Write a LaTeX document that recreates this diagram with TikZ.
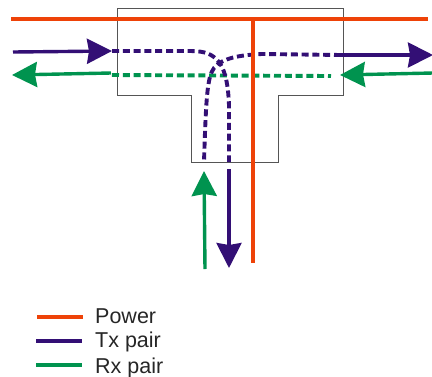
\documentclass[tikz,border=0pt]{standalone}
\usepackage{fontspec}
\setmainfont{Liberation Sans}
\definecolor{PowerRed}{HTML}{EE4208}
\definecolor{TxPurple}{HTML}{330F75}
\definecolor{RxGreen}{HTML}{00934F}
\definecolor{BoxGrey}{HTML}{555555}
\usetikzlibrary{arrows.meta, positioning}
\tikzset{
  % Line styles
  teebox/.style={draw=BoxGrey, line width=1pt},
  powerline/.style={draw=PowerRed, line width=4.3pt},
  txline/.style={draw=TxPurple, line width=3.4pt},
  rxline/.style={draw=RxGreen, line width=3.4pt},
  % Arrow styles
  txarrow/.style={txline, -{Stealth[length=25pt, width=25pt, inset=2pt, fill=TxPurple]}},
  rxarrow/.style={rxline, -{Stealth[length=25pt, width=25pt, inset=2pt, fill=RxGreen]}},
  txdash/.style={txline, line width=3.9pt, dash pattern=on 7pt off 3.8pt},
  rxdash/.style={rxline, line width=3.9pt, dash pattern=on 7pt off 3.8pt},
  % Node styles
  legendlabel/.style={inner sep=0pt, anchor=base west, font=\fontsize{21.5}{22}\selectfont, text=black!85}
}
\begin{document}
\begin{tikzpicture}[x=1pt, y=-1pt]
  \useasboundingbox (0,0) rectangle (432,376);

  % Tee outline
  \draw[teebox] (117,8) -- (343,8) -- (343,95) -- (278,95) -- (278,162) -- (191,162) -- (191,95) -- (117,95) -- cycle;

  % Ends of the pairs
  \coordinate (txwest) at (13,52);
  \coordinate (txwestin) at (112,51);
  \coordinate (txeast) at (341,55);
  \coordinate (txeastout) at (433,55);
  \coordinate (txsouth) at (229,162);
  \coordinate (txsouthin) at (229,169);
  \coordinate (txsouthout) at (229,268);
  \coordinate (txstub) at (204,162);
  \coordinate (rxwest) at (111,73);
  \coordinate (rxwestout) at (12,75);
  \coordinate (rxeast) at (433,73);
  \coordinate (rxeastin) at (340,75);
  \coordinate (rxsouth) at (205,269);
  \coordinate (rxsouthin) at (204,171);

  % Dashed runs inside the tee
  \draw[rxdash] (112,75) -- (331,76);
  \draw[txdash] (txwestin) -- (190,51) .. controls (205,51) and (212,54) .. (218,61) .. controls (224,68) and (228,80) .. (229,105) -- (txsouth);
  \draw[txdash] (txeast) -- (262,54) .. controls (240,55) and (222,58) .. (214,68) .. controls (207,77) and (206,100) .. (txstub);

  % Power
  \draw[powerline] (11,19) -- (428,19);
  \draw[powerline] (253,19) -- (253,263);

  % Tx pair
  \draw[txarrow] (txwest) -- (txwestin);
  \draw[txarrow] (txeast) -- (txeastout);
  \draw[txarrow] (txsouthin) -- (txsouthout);

  % Rx pair
  \draw[rxarrow] (rxwest) -- (rxwestout);
  \draw[rxarrow] (rxeast) -- (rxeastin);
  \draw[rxarrow] (rxsouth) -- (rxsouthin);

  % Legend
  \node[legendlabel] (power) at (95,323) {Power};
  \node[legendlabel] (tx) at (95,347) {Tx pair};
  \node[legendlabel] (rx) at (95,373) {Rx pair};
  \coordinate (powerkey) at (37,317);
  \coordinate (txkey) at (36,341);
  \coordinate (rxkey) at (36,365);
  \draw[powerline] (powerkey) -- ++(46,0);
  \draw[txline, line width=4pt] (txkey) -- ++(46,0);
  \draw[rxline, line width=4pt] (rxkey) -- ++(46,0);
\end{tikzpicture}
\end{document}
